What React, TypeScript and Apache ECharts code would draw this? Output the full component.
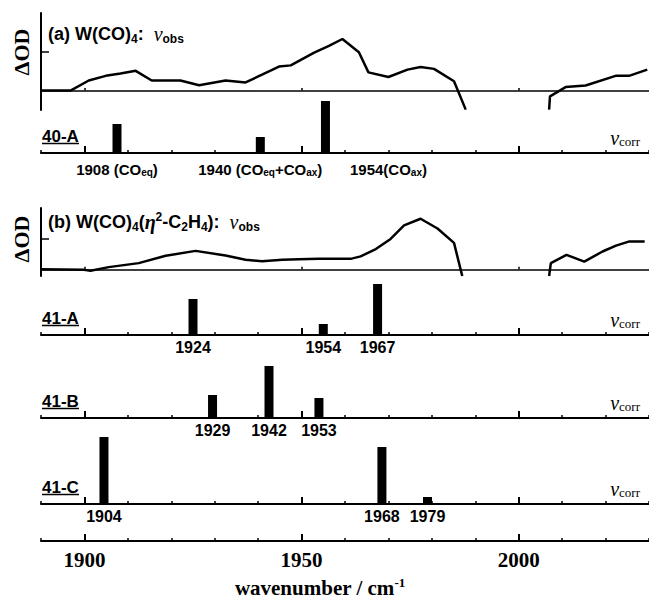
import React, { useEffect, useRef } from "react";
import * as echarts from "echarts";

// ---------------- data ----------------
const X_MIN = 1890;
const X_MAX = 2030;
const MAJOR_TICKS = [1900, 1950, 2000];

// (a) W(CO)4 observed difference spectrum (null = gap)
const wnObsA = [1890, 1896.8, 1901.0, 1904.9, 1908.3, 1911.8, 1915.5, 1922.1, 1926.4, 1932.5, 1937.1, 1940.9, 1944.8, 1947.5, 1952.9, 1956.3, 1959.4, 1963.2, 1965.4, 1970.0, 1974.4, 1977.4, 1980.5, 1985.1, 1987.8, 1997, 2007.0, 2007.2, 2010.8, 2015.4, 2022.3, 2025.4, 2029.6];
const odObsA = [0, 0, 0.26, 0.38, 0.44, 0.51, 0.26, 0.26, 0.14, 0.26, 0.21, 0.41, 0.62, 0.65, 0.98, 1.15, 1.33, 0.99, 0.47, 0.35, 0.54, 0.61, 0.56, 0.24, -0.49, null, -0.49, -0.15, 0.09, 0.13, 0.38, 0.38, 0.54];

// (b) W(CO)4(η2-C2H4) observed difference spectrum (null = gap)
const wnObsB = [1890, 1899.9, 1901.4, 1905.6, 1912.5, 1918.7, 1925.6, 1932.5, 1937.1, 1940.9, 1945.6, 1949.4, 1954.0, 1961.3, 1963.6, 1967.1, 1970.5, 1973.6, 1977.4, 1981.3, 1985.1, 1987.0, 1997, 2007.0, 2007.4, 2011.0, 2015.1, 2019.3, 2022.4, 2025.5, 2029.0];
const odObsB = [0, -0.02, -0.05, 0.07, 0.2, 0.44, 0.6, 0.45, 0.31, 0.26, 0.31, 0.33, 0.34, 0.34, 0.42, 0.66, 0.99, 1.43, 1.65, 1.33, 0.86, -0.22, null, -0.22, 0.2, 0.47, 0.25, 0.58, 0.77, 0.91, 0.91];

// calculated (corrected) stick spectra
const wn40A = [1907.5, 1940.5, 1955.5];
const int40A = [29, 16, 52];
const lbl40A = ["1908 (CO{s|eq})", "1940 (CO{s|eq}+CO{s|ax})", "1954(CO{s|ax})"];

const wn41A = [1925, 1955, 1967.5];
const int41A = [36, 11, 51];
const lbl41A = ["1924", "1954", "1967"];

const wn41B = [1929.5, 1942.5, 1954];
const int41B = [23, 52, 20];
const lbl41B = ["1929", "1942", "1953"];

const wn41C = [1904.5, 1968.5, 1979];
const int41C = [67, 57, 7];
const lbl41C = ["1904", "1968", "1979"];

const panelNames = ["40-A", "41-A", "41-B", "41-C"];

// ---------------- styles / layout ----------------
const SANS = '"Liberation Sans", Arial, sans-serif';
const SERIF = '"Liberation Serif", "Times New Roman", serif';
const LEFT = 41;
const BAR_AXIS_Y = [153, 335, 418, 504];
const BOTTOM_AXIS_Y = 541;

function App() {
  const ref = useRef<HTMLDivElement>(null);

  useEffect(() => {
    if (!ref.current) return;
    const chart = echarts.init(ref.current, null, { renderer: "svg" });

    const grids: any[] = [];
    const xAxes: any[] = [];
    const yAxes: any[] = [];
    const series: any[] = [];
    const graphics: any[] = [];

    const addGrid = (top: number, height: number) => {
      grids.push({ left: LEFT, right: 0, top, height, containLabel: false });
      return grids.length - 1;
    };

    const subRich = {
      s: { fontSize: 10, fontWeight: "bold", fontFamily: SANS, lineHeight: 10, verticalAlign: "bottom", color: "#000" },
    };

    // ---- observed line panels ----
    const addLinePanel = (top: number, height: number, ymin: number, ymax: number, wn: number[], od: (number | null)[]) => {
      const g = addGrid(top, height);
      xAxes.push({
        type: "value", gridIndex: g, min: X_MIN, max: X_MAX, position: "bottom",
        axisLine: { show: true, onZero: true, lineStyle: { color: "#000", width: 1.5 } },
        axisTick: { show: true, inside: true, length: 2.5, customValues: MAJOR_TICKS, lineStyle: { color: "#000", width: 1.5 } },
        axisLabel: { show: false }, splitLine: { show: false },
      });
      const xi = xAxes.length - 1;
      yAxes.push({
        type: "value", gridIndex: g, min: ymin, max: ymax,
        axisLine: { show: true, onZero: false, lineStyle: { color: "#000", width: 2 } },
        axisTick: { show: true, inside: true, length: 8, customValues: [1], lineStyle: { color: "#000", width: 1.5 } },
        axisLabel: { show: false }, splitLine: { show: false },
      });
      const yi = yAxes.length - 1;
      series.push({
        type: "line", xAxisIndex: xi, yAxisIndex: yi,
        data: wn.map((w, i) => [w, od[i] === null ? "-" : od[i]]),
        showSymbol: false, symbol: "none", connectNulls: false, clip: true,
        lineStyle: { color: "#000", width: 2.5 },
      });
    };

    // ---- bar (stick) panels ----
    const addAxisPair = (g: number, withLabels: boolean) => {
      xAxes.push({
        type: "value", gridIndex: g, min: X_MIN, max: X_MAX, interval: 10, position: "bottom",
        axisLine: { show: true, onZero: false, lineStyle: { color: "#000", width: 2 } },
        axisTick: { show: true, inside: true, length: 3, lineStyle: { color: "#000", width: 1.5 } },
        axisLabel: { show: false }, splitLine: { show: false },
      });
      const minor = xAxes.length - 1;
      xAxes.push({
        type: "value", gridIndex: g, min: X_MIN, max: X_MAX, position: "bottom",
        axisLine: { show: false, onZero: false },
        axisTick: { show: true, inside: true, length: 7, customValues: MAJOR_TICKS, lineStyle: { color: "#000", width: 2 } },
        axisLabel: withLabels
          ? {
              show: true, customValues: MAJOR_TICKS, margin: 8, color: "#000",
              fontFamily: SERIF, fontWeight: "bold", fontSize: 21,
              formatter: (v: number) => String(v),
            }
          : { show: false },
        splitLine: { show: false },
      });
      return minor;
    };

    const addBarPanel = (axisY: number, wn: number[], inten: number[], labels: string[], labelSize: number, dist: number, shifts: number[] | null) => {
      const g = addGrid(axisY - 100, 100);
      const xi = addAxisPair(g, false);
      yAxes.push({ type: "value", gridIndex: g, min: 0, max: 100, show: false });
      const yi = yAxes.length - 1;
      series.push({
        type: "bar", xAxisIndex: xi, yAxisIndex: yi, barWidth: 9,
        data: wn.map((w, i) => ({
          value: [w, inten[i]],
          label: shifts ? { offset: [shifts[i], 0] } : undefined,
        })),
        itemStyle: { color: "#000" },
        label: {
          show: true, position: "bottom", distance: dist,
          formatter: (p: any) => labels[p.dataIndex],
          color: "#000", fontFamily: SANS, fontWeight: "bold", fontSize: labelSize,
          rich: subRich,
        },
      });
    };

    addLinePanel(13, 97, -0.5, 2, wnObsA, odObsA);
    addBarPanel(BAR_AXIS_Y[0], wn40A, int40A, lbl40A, 15, 9, [0, 0, 63]);
    addLinePanel(208, 68, -0.22, 2, wnObsB, odObsB);
    addBarPanel(BAR_AXIS_Y[1], wn41A, int41A, lbl41A, 16, 4, null);
    addBarPanel(BAR_AXIS_Y[2], wn41B, int41B, lbl41B, 16, 4, null);
    addBarPanel(BAR_AXIS_Y[3], wn41C, int41C, lbl41C, 16, 4, null);

    // bottom wavenumber axis
    const gb = addGrid(BOTTOM_AXIS_Y - 100, 100);
    addAxisPair(gb, true);
    yAxes.push({ type: "value", gridIndex: gb, min: 0, max: 100, show: false });

    // ---- graphic texts ----
    const dOD = (y: number) => ({
      type: "text", x: 21, y, rotation: Math.PI / 2,
      style: { text: "ΔOD", font: `bold 22px ${SERIF}`, fill: "#000", align: "center", verticalAlign: "middle" },
    });
    graphics.push(dOD(52), dOD(239));

    const titleRich = {
      t: { fontSize: 18, fontWeight: "bold", fontFamily: SANS, lineHeight: 22, color: "#000" },
      s: { fontSize: 12, fontWeight: "bold", fontFamily: SANS, lineHeight: 12, verticalAlign: "bottom", color: "#000" },
      sup: { fontSize: 12, fontWeight: "bold", fontFamily: SANS, lineHeight: 12, verticalAlign: "top", color: "#000" },
      nu: { fontSize: 20, fontStyle: "italic", fontFamily: SERIF, lineHeight: 22, color: "#000" },
      eta: { fontSize: 20, fontStyle: "italic", fontWeight: "bold", fontFamily: SERIF, lineHeight: 22, color: "#000" },
    };
    graphics.push({
      type: "text", x: 48, y: 34,
      style: { text: "{t|(a) W(CO)}{s|4}{t|:  }{nu|ν}{s|obs}", rich: titleRich, verticalAlign: "middle", align: "left" },
    });
    graphics.push({
      type: "text", x: 48, y: 222,
      style: { text: "{t|(b) W(CO)}{s|4}{t|(}{eta|η}{sup|2}{t|-C}{s|2}{t|H}{s|4}{t|):  }{nu|ν}{s|obs}", rich: titleRich, verticalAlign: "middle", align: "left" },
    });

    const corrRich = {
      nu: { fontSize: 20, fontStyle: "italic", fontFamily: SERIF, lineHeight: 20, color: "#000" },
      c: { fontSize: 13, fontFamily: SERIF, lineHeight: 13, verticalAlign: "bottom", color: "#000" },
    };
    BAR_AXIS_Y.forEach((ay, i) => {
      graphics.push({
        type: "text", x: 640, y: ay - 15,
        style: { text: "{nu|ν}{c|corr}", rich: corrRich, align: "right", verticalAlign: "middle" },
      });
      graphics.push({
        type: "text", x: 42, y: ay - 17,
        style: { text: panelNames[i], font: `bold 17px ${SANS}`, fill: "#000", align: "left", verticalAlign: "middle" },
      });
      graphics.push({
        type: "line", shape: { x1: 42, y1: ay - 9.5, x2: 79, y2: ay - 9.5 },
        style: { stroke: "#000", lineWidth: 1.5 },
      });
    });

    graphics.push({
      type: "text", x: 320, y: 588,
      style: {
        text: "{w|wavenumber / cm}{sup|-1}",
        rich: {
          w: { fontSize: 21, fontWeight: "bold", fontFamily: SERIF, lineHeight: 24, color: "#000" },
          sup: { fontSize: 13, fontWeight: "bold", fontFamily: SERIF, lineHeight: 13, verticalAlign: "top", color: "#000" },
        },
        align: "center", verticalAlign: "middle",
      },
    });

    chart.setOption({
      animation: false,
      backgroundColor: "#fff",
      grid: grids,
      xAxis: xAxes,
      yAxis: yAxes,
      series,
      graphic: graphics,
    });

    return () => chart.dispose();
  }, []);

  return <div ref={ref} style={{ position: "absolute", left: 0, top: 0, width: 649, height: 602 }} />;
}

export default App;
